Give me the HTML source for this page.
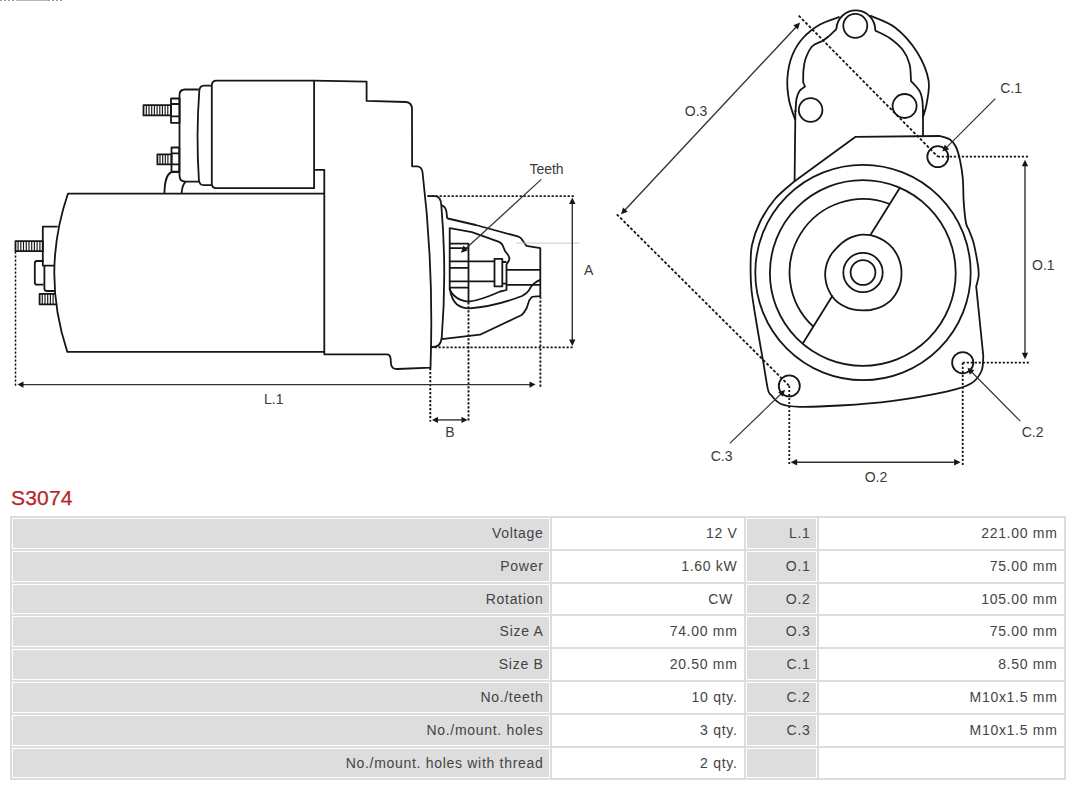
<!DOCTYPE html>
<html><head><meta charset="utf-8">
<style>
html,body{margin:0;padding:0;background:#fff;}
body{width:1080px;height:786px;position:relative;overflow:hidden;font-family:"Liberation Sans",sans-serif;}
.hl{position:absolute;left:10px;width:1056px;height:2px;background:#dddddd;}
.vl{position:absolute;top:516px;width:2px;height:264px;background:#dddddd;}
.g{position:absolute;background:#dddddd;}
.t{position:absolute;font-size:14px;line-height:16px;letter-spacing:0.7px;color:#444;white-space:nowrap;}
.title{position:absolute;left:11px;top:486.5px;font-size:21px;line-height:22px;color:#b8232a;letter-spacing:0.2px;-webkit-text-stroke:0.25px #b8232a;}
svg{position:absolute;left:0;top:0;}
</style></head><body>
<svg width="1080" height="490" viewBox="0 0 1080 490">
<path d="M0 0.5H64" stroke="#9a9a9a" stroke-width="1" stroke-dasharray="2 2"/><path d="M16 0.5H48" stroke="#b5b5b5" stroke-width="1"/>
<g fill="none" stroke="#161616" stroke-width="1.8" stroke-linejoin="round" stroke-linecap="butt">
<!-- solenoid upper bolt -->
<rect x="143.5" y="105.2" width="27.5" height="10.2"/>
<path d="M146.3 105.2V115.4M149.0 105.2V115.4M151.7 105.2V115.4M154.4 105.2V115.4M157.1 105.2V115.4M159.8 105.2V115.4M162.4 105.2V115.4M165.1 105.2V115.4M167.8 105.2V115.4" stroke-width="1.15"/>
<!-- upper nut -->
<rect x="171" y="98.5" width="8.6" height="24.3"/>
<path d="M171 104H179.6M171 116.3H179.6"/>
<!-- lower bolt -->
<rect x="157.4" y="154.4" width="14.1" height="10"/>
<path d="M160.0 154.4V164.4M162.7 154.4V164.4M165.3 154.4V164.4M167.9 154.4V164.4" stroke-width="1.15"/>
<!-- lower nut -->
<rect x="171.5" y="147.5" width="7.8" height="24.2"/>
<path d="M171.5 153.3H179.3M171.5 164.4H179.3"/>
<!-- cap -->
<path d="M198.8 89.5H185Q179.5 89.5 179.5 95V175.5Q179.5 181.6 185.6 181.6H198.9"/>
<!-- ring -->
<path d="M211.8 85.7H204Q199.6 85.8 199.3 91Q196 135 198.9 180Q199.5 185.2 203.5 185.2H211.8"/>
<!-- solenoid body -->
<path d="M314.1 80.7H216.5Q211.8 80.7 211.8 85.5V183.5Q211.8 188.2 216.5 188.2H314.1V80.7"/>
<!-- arcs -->
<path d="M164.4 193.7C164.6 181 167.5 172 173 172H179.3"/>
<path d="M181.5 193.7Q182.3 184.5 185.6 181.7"/>
<!-- housing -->
<path d="M314.1 80.7L366.6 81.6V100.8L406 102Q411.8 102.5 412 109L412.1 166.3H417Q421.6 166.5 422.5 172Q434 268 430.5 367.6L397.5 369Q391 369.2 390.9 363L390.6 358.5Q390.3 354.3 386.5 354.3H324.3V169.8H314.1"/>
<!-- motor body -->
<path d="M324.2 193.7H67.9Q41 272.6 67.3 351.9H324.3"/>
<!-- left brackets -->
<path d="M57.7 226.7H42.8V265.6H54.3"/>
<path d="M44.4 265.6V288.5Q44.4 291 47 291H55"/>
<path d="M43.6 261H37Q34.8 261 34.8 263.5V282.2Q34.8 284.7 37 284.7H43.6"/>
<rect x="15.5" y="241.1" width="27.3" height="10.1"/>
<path d="M18.1 241.1V251.2M20.8 241.1V251.2M23.5 241.1V251.2M26.3 241.1V251.2M29.0 241.1V251.2M31.7 241.1V251.2M34.4 241.1V251.2M37.1 241.1V251.2M39.9 241.1V251.2" stroke-width="1.15"/>
<path d="M55.3 293.9H39.6V304.4H56.5"/>
<path d="M42.3 293.9V304.4M45.0 293.9V304.4M47.7 293.9V304.4M50.4 293.9V304.4M53.1 293.9V304.4" stroke-width="1.15"/>
<!-- flange -->
<path d="M427.6 196.1H435.6Q441 197 441.3 205.2Q447 271 441.7 338Q440.5 345.5 436 346.5L430.5 347.3"/>
<!-- nose outer -->
<path d="M441.3 205.2Q445.5 206.5 446.5 212L447.1 217.8Q447.8 218.6 450 219L475.8 225L518.6 236.7Q521 237.5 523 241L526.4 245.8L540.3 248.2V296.1Q533 296.3 531.7 297.1Q528.8 300 528.3 303.3L526.6 308.3Q524 313 521.7 315L480 334.7L441.7 339.2"/>
<!-- pinion housing inner -->
<path d="M449.7 290V228.1L471.9 232.2L499 241.9Q501.5 243 502.5 245L505.2 251.3Q508.5 254.5 509.5 258.4Q509.3 261 507.7 262.5L506.5 264.5V290Q503 291 500.1 291.5Q480 300.5 468.5 301.7Q459 300.5 454 295.5Q450 291.5 449.7 288"/>
<path d="M449.7 288Q451.5 300 457 304.5Q462 308.3 469.5 308.3Q495 306.5 522 296Q528 293 530.6 287.4Q533.5 282.5 540.3 279.8"/>
<!-- teeth -->
<path d="M449.7 243.7H468.5V302.2M449.7 248.2H468.5M449.7 261.3H494.5M449.7 267.8H468.5M449.7 281.3H494.5M449.7 287.7H468.5"/>
<rect x="494.5" y="258.9" width="7.8" height="27.5"/>
<path d="M502.3 262H506.5M502.3 283.7H506.5M506.5 269.8H540.3M506.5 284.9H540.3"/>
</g>
<!-- dotted lines -->
<g fill="none" stroke="#161616" stroke-width="1.9" stroke-dasharray="2.2 1.8">
<path d="M427.6 196.1H574.5"/>
<path d="M430.5 347.4H574.5"/>
<path d="M430.3 368V421.5"/>
<path d="M468.5 302.2V421.5"/>
<path d="M540.4 296.5V387"/>
<path d="M15.5 251.5V387.5" stroke-width="1.5"/>
</g>
<line x1="516" y1="243.1" x2="579.5" y2="243.1" stroke="#c8c8c8" stroke-width="1"/>
<!-- dimension arrows -->
<g stroke="#333" fill="#161616">
<path d="M572.3 203V340" stroke-width="1.4"/>
<path d="M572.3 197.5L569.1 204H575.5Z" stroke="none"/>
<path d="M572.3 346L569.1 339.5H575.5Z" stroke="none"/>
<path d="M22 384.6H530" stroke-width="1.4"/>
<path d="M17.5 384.6L23.5 381.4V387.8Z" stroke="none"/>
<path d="M535.5 384.6L529.5 381.4V387.8Z" stroke="none"/>
<path d="M437 419.9H463" stroke-width="1.4"/>
<path d="M432 419.9L438 416.7V423.1Z" stroke="none"/>
<path d="M467.5 419.9L461.5 416.7V423.1Z" stroke="none"/>
<path d="M541.3 179.4L464.5 249.8" stroke-width="1.2"/>
<path d="M460.9 252.8L463.5 245.6L467.8 250.4Z" stroke="none"/>
</g>

<g fill="none" stroke="#161616" stroke-width="1.8" stroke-linejoin="round">
<path d="M795.3 120.0C794.2 116.7 790.3 107.0 789.0 100.0C787.7 93.0 786.9 85.3 787.4 78.0C787.9 70.7 789.4 62.7 792.0 56.0C794.6 49.3 798.3 43.2 803.0 38.0C807.7 32.8 813.9 28.0 820.0 24.5C826.1 21.0 836.3 18.2 839.6 16.9"/>
<path d="M836.4 29A18.7 18.7 0 1 1 875.2 30.6"/>
<path d="M870.1 15.6C874.3 17.6 887.6 21.6 895.4 27.7C903.2 33.8 911.5 43.3 917.0 52.0C922.5 60.7 926.9 71.5 928.5 80.0C930.1 88.5 927.6 97.1 926.7 103.3C925.8 109.5 923.6 114.7 923.0 117.0"/>
<path d="M836.4 29.0C835.0 30.3 830.6 34.7 828.2 36.7C825.8 38.7 824.5 39.6 821.8 41.2C819.1 42.8 814.7 43.5 812.0 46.5C809.3 49.5 806.9 55.1 805.5 59.0C804.1 62.9 803.9 66.1 803.5 70.0C803.1 73.9 803.2 80.4 803.2 82.5L805 86.5C804.1 87.2 800.9 88.9 799.5 91.0C798.1 93.1 797.2 95.5 796.5 99.0C795.8 102.5 795.7 109.8 795.5 112.0"/>
<path d="M875.2 30.6C877.7 31.9 885.3 35.0 889.9 38.2C894.5 41.4 899.4 45.5 902.7 49.8C906.0 54.1 908.1 58.8 909.5 64.0C910.9 69.2 910.8 78.3 911.0 81.2L915.6 85.8C916.4 86.9 919.2 89.9 920.3 92.3C921.4 94.7 921.8 96.7 922.3 100.0C922.8 103.3 922.9 110.0 923.0 112.0"/>
<path d="M795.4 110L794.6 181.5M923 110V136.5"/>
<circle cx="855.3" cy="25.8" r="12"/>
<circle cx="810.6" cy="110" r="11.8"/>
<circle cx="904.6" cy="106" r="12"/>
<circle cx="937.8" cy="156.7" r="10.5"/>
<circle cx="962.7" cy="362.7" r="10.6"/>
<circle cx="789.3" cy="385.9" r="10.5"/>
<path d="M794.6 181.2L855.6 136.8L940 136C941.7 136.6 947.3 137.7 950.0 139.5C952.7 141.3 954.3 143.5 956.0 147.0C957.7 150.5 959.0 155.4 960.1 160.7C961.2 165.9 962.2 171.7 962.8 178.5C963.4 185.3 963.2 194.2 963.7 201.6C964.2 209.0 965.1 218.2 966.0 223.0C966.9 227.8 967.8 226.9 969.0 230.2C970.2 233.5 972.0 236.8 973.5 242.6C975.0 248.4 977.0 259.4 977.9 265.0C978.8 270.6 978.9 272.4 978.6 276.0C978.3 279.6 976.6 284.6 976.2 286.3L983.3 356C983.0 358.5 983.5 366.4 981.5 371.0C979.5 375.6 976.6 380.1 971.0 383.5C965.4 386.9 960.9 388.4 947.6 391.3C934.3 394.2 909.0 398.7 891.1 401.1C873.2 403.5 855.2 404.6 840.0 405.5C824.8 406.4 809.8 407.1 800.0 406.8C790.2 406.6 785.8 406.0 781.0 404.0C776.2 402.0 773.2 397.5 771.0 395.0C768.8 392.5 769.1 394.5 767.8 388.9C766.5 383.2 765.1 372.6 763.1 361.1C761.1 349.6 757.9 331.9 756.0 320.0C754.1 308.1 752.4 298.8 751.5 290.0C750.6 281.2 750.5 274.5 750.6 267.0C750.7 259.5 750.4 252.5 752.0 245.0C753.6 237.5 756.2 229.7 760.0 222.0C763.8 214.3 769.2 205.8 775.0 199.0C780.8 192.2 791.3 184.2 794.6 181.2"/>
<circle cx="863" cy="272.5" r="12.4"/>
<circle cx="863" cy="272.5" r="19.7"/>
<circle cx="863" cy="272.5" r="107.7"/>
<circle cx="862.8" cy="273" r="92.9"/>
<path d="M901.5 272.5C901.5 275.0 901.4 277.6 901.0 280.1C900.6 282.5 899.9 285.0 899.0 287.4C898.1 289.8 896.9 292.1 895.6 294.3C894.2 296.4 892.7 298.6 890.9 300.4C889.0 302.1 886.8 303.6 884.7 304.9C882.5 306.2 880.1 307.3 877.8 308.2C875.4 309.0 872.9 309.6 870.5 310.0C868.0 310.3 865.5 310.3 863.0 310.3C860.5 310.3 858.0 310.3 855.6 309.9C853.1 309.5 850.6 308.9 848.3 308.1C845.9 307.2 843.6 306.1 841.4 304.8C839.3 303.5 837.1 302.0 835.3 300.2C833.5 298.4 832.0 296.2 830.7 294.1C829.4 291.9 828.3 289.6 827.4 287.2C826.6 284.9 826.0 282.4 825.6 279.9C825.2 277.5 825.1 275.0 825.2 272.5C825.3 270.0 825.8 267.6 826.4 265.2C827.0 262.9 827.9 260.6 829.0 258.4C830.0 256.2 831.3 254.2 832.8 252.3C834.2 250.4 835.9 248.8 837.6 247.1C839.3 245.4 840.9 243.7 842.8 242.2C844.7 240.8 846.7 239.5 848.9 238.4C851.0 237.3 853.4 236.5 855.7 235.8C858.1 235.2 860.5 234.7 863.0 234.6C865.5 234.5 868.0 234.8 870.4 235.2C872.8 235.7 875.3 236.4 877.6 237.3C879.9 238.2 882.1 239.4 884.2 240.7C886.3 242.1 888.3 243.7 890.1 245.4C891.9 247.2 893.5 249.1 894.9 251.2C896.3 253.3 897.5 255.5 898.5 257.8C899.4 260.1 900.2 262.5 900.7 265.0C901.2 267.4 901.5 270.0 901.5 272.5Z"/>
<path d="M889.7 204.0A73.5 73.5 0 0 0 813.3 326.6"/>
<path d="M870.4 235.0L900.2 187.2M832.6 295.6L802.8 343.4"/>
</g>
<g fill="none" stroke="#161616" stroke-width="1.8" stroke-dasharray="2.2 1.8">
<path d="M798.7 15.6L937.8 156.7" stroke-dasharray="2.9 1.9"/>
<path d="M616.8 214.3L789.3 385.9" stroke-dasharray="2.9 1.9"/>
<path d="M937.8 156.7H1029M962.7 362.7H1029"/>
<path d="M789.3 385.9V465M962.7 362.7V465"/>
</g>
<path d="M624.5 210.5L796.6 26.4" stroke="#333" stroke-width="1.4" fill="none"/><path d="M800.1 22.6L798.0 29.5L793.3 25.2Z" fill="#161616"/><path d="M621.0 214.3L627.8 211.7L623.1 207.4Z" fill="#161616"/>
<path d="M1025.0 165.0L1025.0 354.1" stroke="#333" stroke-width="1.4" fill="none"/><path d="M1025.0 359.3L1021.8 352.8L1028.2 352.8Z" fill="#161616"/><path d="M1025.0 159.8L1021.8 166.3L1028.2 166.3Z" fill="#161616"/>
<path d="M795.8 462.2L955.4 462.2" stroke="#333" stroke-width="1.4" fill="none"/><path d="M960.6 462.2L954.1 465.4L954.1 459.0Z" fill="#161616"/><path d="M790.6 462.2L797.1 465.4L797.1 459.0Z" fill="#161616"/>
<path d="M995.3 98.7L946.1 147.9" stroke="#333" stroke-width="1.2" fill="none"/><path d="M942.4 151.6L944.7 144.7L949.3 149.3Z" fill="#161616"/>
<path d="M1020.3 421.1L971.2 371.5" stroke="#333" stroke-width="1.2" fill="none"/><path d="M967.5 367.8L974.3 370.2L969.8 374.7Z" fill="#161616"/>
<path d="M729.8 443.4L781.4 393.5" stroke="#333" stroke-width="1.2" fill="none"/><path d="M785.1 389.9L782.7 396.7L778.2 392.1Z" fill="#161616"/>
<g font-family="Liberation Sans, sans-serif" font-size="14" fill="#3a3a3a">
<text x="529.4" y="174">Teeth</text>
<text x="584" y="274.6">A</text>
<text x="264" y="403.7">L.1</text>
<text x="445.3" y="436.5">B</text>
<text x="684.8" y="115.8">O.3</text>
<text x="1000.2" y="92.6">C.1</text>
<text x="1032" y="269.7">O.1</text>
<text x="1021.7" y="437.2">C.2</text>
<text x="710.7" y="460.5">C.3</text>
<text x="864.7" y="481.7">O.2</text>
</g>
</svg>
<div class="title">S3074</div>
<div class="hl" style="top:516px"></div>
<div class="hl" style="top:549px"></div>
<div class="hl" style="top:582px"></div>
<div class="hl" style="top:614px"></div>
<div class="hl" style="top:647px"></div>
<div class="hl" style="top:680px"></div>
<div class="hl" style="top:713px"></div>
<div class="hl" style="top:746px"></div>
<div class="hl" style="top:778px"></div>
<div class="vl" style="left:10px"></div>
<div class="vl" style="left:550px"></div>
<div class="vl" style="left:744px"></div>
<div class="vl" style="left:817px"></div>
<div class="vl" style="left:1064px"></div>
<div class="g" style="left:13px;top:519px;width:536px;height:29px"></div>
<div class="g" style="left:747px;top:519px;width:69px;height:29px"></div>
<div class="t" style="right:536.5px;top:524.9px">Voltage</div>
<div class="t" style="right:342.5px;top:524.9px">12 V</div>
<div class="t" style="right:269.5px;top:524.9px">L.1</div>
<div class="t" style="right:22.5px;top:524.9px">221.00 mm</div>
<div class="g" style="left:13px;top:552px;width:536px;height:29px"></div>
<div class="g" style="left:747px;top:552px;width:69px;height:29px"></div>
<div class="t" style="right:536.5px;top:557.9px">Power</div>
<div class="t" style="right:342.5px;top:557.9px">1.60 kW</div>
<div class="t" style="right:269.5px;top:557.9px">O.1</div>
<div class="t" style="right:22.5px;top:557.9px">75.00 mm</div>
<div class="g" style="left:13px;top:585px;width:536px;height:28px"></div>
<div class="g" style="left:747px;top:585px;width:69px;height:28px"></div>
<div class="t" style="right:536.5px;top:590.9px">Rotation</div>
<div class="t" style="right:342.5px;top:590.9px">CW </div>
<div class="t" style="right:269.5px;top:590.9px">O.2</div>
<div class="t" style="right:22.5px;top:590.9px">105.00 mm</div>
<div class="g" style="left:13px;top:617px;width:536px;height:29px"></div>
<div class="g" style="left:747px;top:617px;width:69px;height:29px"></div>
<div class="t" style="right:536.5px;top:622.9px">Size A</div>
<div class="t" style="right:342.5px;top:622.9px">74.00 mm</div>
<div class="t" style="right:269.5px;top:622.9px">O.3</div>
<div class="t" style="right:22.5px;top:622.9px">75.00 mm</div>
<div class="g" style="left:13px;top:650px;width:536px;height:29px"></div>
<div class="g" style="left:747px;top:650px;width:69px;height:29px"></div>
<div class="t" style="right:536.5px;top:655.9px">Size B</div>
<div class="t" style="right:342.5px;top:655.9px">20.50 mm</div>
<div class="t" style="right:269.5px;top:655.9px">C.1</div>
<div class="t" style="right:22.5px;top:655.9px">8.50 mm</div>
<div class="g" style="left:13px;top:683px;width:536px;height:29px"></div>
<div class="g" style="left:747px;top:683px;width:69px;height:29px"></div>
<div class="t" style="right:536.5px;top:688.9px">No./teeth</div>
<div class="t" style="right:342.5px;top:688.9px">10 qty.</div>
<div class="t" style="right:269.5px;top:688.9px">C.2</div>
<div class="t" style="right:22.5px;top:688.9px">M10x1.5 mm</div>
<div class="g" style="left:13px;top:716px;width:536px;height:29px"></div>
<div class="g" style="left:747px;top:716px;width:69px;height:29px"></div>
<div class="t" style="right:536.5px;top:721.9px">No./mount. holes</div>
<div class="t" style="right:342.5px;top:721.9px">3 qty.</div>
<div class="t" style="right:269.5px;top:721.9px">C.3</div>
<div class="t" style="right:22.5px;top:721.9px">M10x1.5 mm</div>
<div class="g" style="left:13px;top:749px;width:536px;height:28px"></div>
<div class="g" style="left:747px;top:749px;width:69px;height:28px"></div>
<div class="t" style="right:536.5px;top:754.9px">No./mount. holes with thread</div>
<div class="t" style="right:342.5px;top:754.9px">2 qty.</div>
</body></html>
